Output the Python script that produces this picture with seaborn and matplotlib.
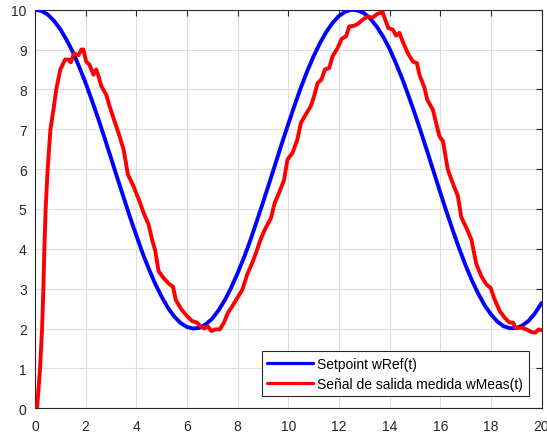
import matplotlib
matplotlib.use("Agg")
import matplotlib.pyplot as plt
import seaborn as sns
import pandas as pd

# Setpoint wRef(t), sampled every 0.25 s
t_ref = [i * 0.25 for i in range(81)]
w_ref = [10.00, 9.97, 9.88, 9.72, 9.51, 9.24, 8.93, 8.56, 8.16, 7.72,
         7.26, 6.78, 6.28, 5.78, 5.29, 4.80, 4.34, 3.89, 3.49, 3.12,
         2.80, 2.52, 2.30, 2.14, 2.04, 2.00, 2.02, 2.11, 2.25, 2.46,
         2.72, 3.03, 3.39, 3.78, 4.21, 4.68, 5.16, 5.65, 6.15, 6.65,
         7.13, 7.60, 8.05, 8.46, 8.83, 9.16, 9.44, 9.67, 9.84, 9.95,
         10.00, 9.98, 9.91, 9.77, 9.57, 9.32, 9.02, 8.66, 8.27, 7.84,
         7.39, 6.91, 6.42, 5.92, 5.42, 4.93, 4.46, 4.01, 3.59, 3.21,
         2.88, 2.59, 2.36, 2.18, 2.06, 2.01, 2.01, 2.08, 2.20, 2.39,
         2.64]

# Measured output wMeas(t)
t_meas = [0.0, 0.08, 0.2, 0.28, 0.33, 0.37, 0.42, 0.5, 0.61, 0.73,
          0.84, 1.0, 1.19, 1.32, 1.41, 1.54, 1.72, 1.83, 1.91, 2.02,
          2.15, 2.31, 2.42, 2.51, 2.62, 2.81, 2.97, 3.12, 3.30, 3.5,
          3.67, 3.89, 4.1, 4.29, 4.49, 4.62, 4.75, 4.88, 5.1, 5.3,
          5.45, 5.56, 5.78, 6.01, 6.2, 6.4, 6.53, 6.69, 6.82, 6.96,
          7.13, 7.3, 7.46, 7.62, 7.79, 7.99, 8.19, 8.38, 8.58, 8.75,
          8.91, 9.11, 9.31, 9.47, 9.64, 9.83, 9.97, 10.17, 10.36, 10.5,
          10.69, 10.89, 11.02, 11.16, 11.31, 11.45, 11.62, 11.75, 11.95, 12.11,
          12.28, 12.41, 12.61, 12.74, 12.94, 13.14, 13.33, 13.53, 13.73, 13.95,
          14.13, 14.26, 14.39, 14.52, 14.72, 14.92, 15.08, 15.18, 15.38, 15.49,
          15.71, 15.84, 15.97, 16.11, 16.3, 16.44, 16.7, 16.83, 17.03, 17.23,
          17.43, 17.62, 17.82, 17.99, 18.15, 18.35, 18.55, 18.74, 18.88, 18.97,
          19.21, 19.41, 19.6, 19.76, 19.89, 20.0]
w_meas = [0.0, 0.0, 1.0, 2.0, 3.0, 4.0, 5.0, 6.0, 7.0, 7.5,
          8.0, 8.5, 8.75, 8.75, 8.68, 8.9, 8.86, 9.0, 9.0, 8.7,
          8.62, 8.37, 8.5, 8.33, 8.08, 7.87, 7.53, 7.24, 6.9, 6.49,
          5.86, 5.57, 5.24, 4.9, 4.6, 4.24, 3.95, 3.44, 3.25, 3.12,
          3.05, 2.72, 2.48, 2.31, 2.19, 2.15, 2.06, 2.0, 2.06, 1.94,
          1.98, 1.98, 2.15, 2.4, 2.56, 2.77, 2.98, 3.36, 3.65, 3.94,
          4.24, 4.53, 4.76, 5.16, 5.41, 5.72, 6.24, 6.41, 6.74, 7.16,
          7.37, 7.58, 7.83, 8.16, 8.25, 8.5, 8.54, 8.83, 9.04, 9.27,
          9.33, 9.58, 9.6, 9.64, 9.75, 9.83, 9.8, 9.9, 9.93, 9.54,
          9.5, 9.35, 9.42, 9.2, 8.91, 8.7, 8.66, 8.37, 8.04, 7.74,
          7.49, 7.16, 6.82, 6.7, 5.99, 5.74, 5.32, 4.8, 4.53, 4.24,
          3.61, 3.32, 3.11, 3.02, 2.73, 2.44, 2.27, 2.15, 2.15, 2.02,
          2.02, 1.98, 1.91, 1.9, 1.98, 1.96]

x_ticks = list(range(0, 21, 2))
y_ticks = list(range(0, 11))
label_ref = "Setpoint wRef(t)"
label_meas = "Señal de salida medida wMeas(t)"

sns.set_style("white")
plt.rcParams["font.family"] = ["Liberation Sans", "DejaVu Sans"]

ink = "#262626"
fig = plt.figure(figsize=(5.47, 4.35), dpi=100)
ax = fig.add_axes([35 / 547, 1 - 409.3 / 435, 506.5 / 547, 398.6 / 435])

ref_df = pd.DataFrame({"t": t_ref, "w": w_ref})
meas_df = pd.DataFrame({"t": t_meas, "w": w_meas})

sns.lineplot(data=ref_df, x="t", y="w", ax=ax, color="#0000ff",
             linewidth=2.8, estimator=None, label=label_ref, zorder=3)
sns.lineplot(data=meas_df, x="t", y="w", ax=ax, color="#ff0000",
             linewidth=2.8, estimator=None, label=label_meas, zorder=4)

ax.set_xlim(0, 20)
ax.set_ylim(0, 10)
ax.set_xticks(x_ticks)
ax.set_yticks(y_ticks)
ax.set_xlabel("")
ax.set_ylabel("")

ax.grid(True, color="#dfdfdf", linewidth=0.8)
ax.set_axisbelow(True)
for side in ["top", "right", "bottom", "left"]:
    ax.spines[side].set_visible(True)
    ax.spines[side].set_color(ink)
    ax.spines[side].set_linewidth(0.8)
ax.tick_params(direction="in", length=4, width=0.8, color=ink,
               labelcolor=ink, labelsize=10, top=True, right=True,
               labeltop=False, labelright=False)
ax.tick_params(axis="x", pad=8)
ax.tick_params(axis="y", pad=6)

leg = ax.legend(loc="lower right", bbox_to_anchor=(0.9745, 0.03),
                borderaxespad=0, fancybox=False, framealpha=1,
                edgecolor=ink, fontsize=10, handlelength=3.3,
                handletextpad=0.3, borderpad=0.4, labelspacing=0.42)
leg.get_frame().set_linewidth(0.8)
for line in leg.get_lines():
    line.set_linewidth(2.3)
for txt in leg.get_texts():
    txt.set_color("black")

fig.savefig("out.png", dpi=100)
